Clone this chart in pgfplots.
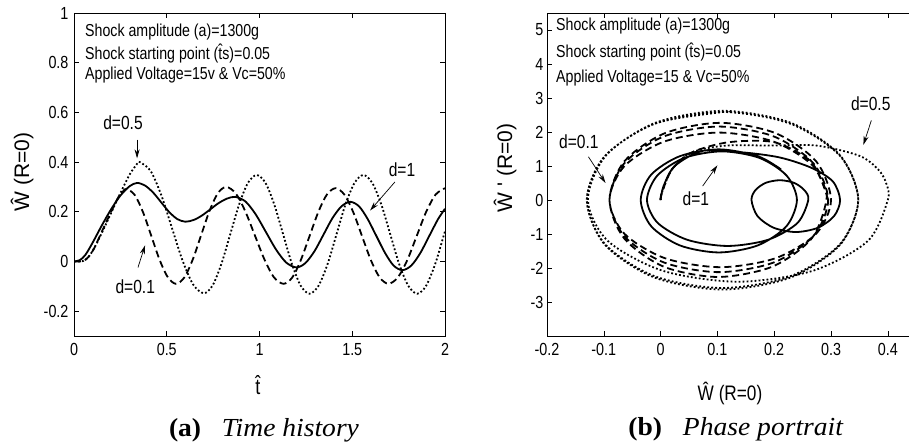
\documentclass[border=0pt]{standalone}
\usepackage{pgfplots}
\pgfplotsset{compat=1.18}
\usepackage{pgfplotstable}
\usetikzlibrary{arrows.meta}
\usepackage{fontspec}
\setmainfont{Liberation Serif}
\newfontfamily\pf{Liberation Sans}[FakeStretch=0.82]
\newfontfamily\pfn{Liberation Sans}
\newfontfamily\capf{Liberation Serif}[FakeStretch=1.06]

% columns: t, W, dW/dt
\pgfplotstableread{
t w dw
0 0 0
0.05 0.002 0.2
0.08 0.02 0.9
0.11 0.055 1.4
0.15 0.115 1.6
0.2 0.195 1.6
0.25 0.275 1.6
0.3 0.35 1.3
0.33 0.383 0.9
0.345 0.397 0.5
0.355 0.40 0
0.4125 0.365 -1.202
0.47 0.268 -2.082
0.5275 0.136 -2.404
0.585 0.004 -2.082
0.6425 -0.093 -1.202
0.70 -0.128 0
0.7475 -0.096 1.312
0.795 -0.009 2.272
0.8425 0.11 2.623
0.89 0.229 2.272
0.9375 0.316 1.312
0.985 0.348 0
1.0325 0.316 -1.317
1.08 0.2285 -2.282
1.1275 0.109 -2.635
1.175 -0.0105 -2.282
1.2225 -0.098 -1.317
1.27 -0.13 0
1.318 -0.098 1.295
1.367 -0.0105 2.242
1.415 0.109 2.589
1.463 0.2285 2.242
1.512 0.316 1.295
1.56 0.348 0
1.608 0.316 -1.295
1.657 0.2285 -2.242
1.705 0.109 -2.589
1.753 -0.0105 -2.242
1.802 -0.098 -1.295
1.85 -0.13 0
1.898 -0.098 1.295
1.947 -0.0105 2.242
1.995 0.109 2.589
2.0 0.121 2.585
}\tabD

\pgfplotstableread{
t w dw
0 0 0
0.05 0.002 0.2
0.08 0.02 0.9
0.11 0.055 1.4
0.15 0.12 1.7
0.2 0.2 1.7
0.24 0.26 1.2
0.265 0.283 0.6
0.285 0.292 0
0.329 0.266 -1.132
0.373 0.1965 -1.961
0.4175 0.101 -2.264
0.462 0.0055 -1.961
0.506 -0.064 -1.132
0.55 -0.09 0
0.595 -0.064 1.134
0.64 0.0075 1.965
0.685 0.105 2.269
0.73 0.2025 1.965
0.775 0.274 1.134
0.82 0.30 0
0.872 0.274 -0.988
0.923 0.2025 -1.711
0.975 0.105 -1.976
1.027 0.0075 -1.711
1.078 -0.064 -0.988
1.13 -0.09 0
1.177 -0.064 1.08
1.223 0.006 1.871
1.27 0.1025 2.16
1.317 0.199 1.871
1.363 0.269 1.08
1.41 0.295 0
1.4575 0.269 -1.061
1.505 0.199 -1.838
1.5525 0.1025 -2.122
1.60 0.006 -1.838
1.6475 -0.064 -1.061
1.695 -0.09 0
1.746 -0.064 0.991
1.797 0.006 1.717
1.8475 0.1025 1.983
1.898 0.199 1.717
1.949 0.269 0.991
2.0 0.295 0
}\tabA

\pgfplotstableread{
t w dw
0 0 0
0.03 0.005 0.4
0.06 0.025 1.0
0.1 0.075 1.45
0.15 0.145 1.4
0.2 0.21 1.25
0.25 0.265 0.95
0.3 0.303 0.55
0.34 0.316 0
0.383 0.3055 -0.471
0.427 0.277 -0.816
0.47 0.238 -0.942
0.513 0.199 -0.816
0.557 0.1705 -0.471
0.60 0.16 0
0.645 0.167 0.291
0.69 0.185 0.504
0.735 0.21 0.582
0.78 0.235 0.504
0.825 0.253 0.291
0.87 0.26 0
0.925 0.241 -0.676
0.98 0.189 -1.171
1.035 0.118 -1.352
1.09 0.047 -1.171
1.145 -0.005 -0.676
1.20 -0.024 0
1.248 -0.006 0.715
1.297 0.042 1.238
1.345 0.108 1.43
1.393 0.174 1.238
1.442 0.222 0.715
1.49 0.24 0
1.537 0.2216 -0.771
1.583 0.171 -1.336
1.63 0.1025 -1.543
1.677 0.034 -1.336
1.723 -0.0166 -0.771
1.77 -0.035 0
1.818 -0.0166 0.745
1.867 0.034 1.29
1.915 0.1025 1.49
1.963 0.171 1.29
2.0 0.212 0.90
}\tabS

\pgfplotsset{
  common/.style={
    scale only axis,
    axis line style={line width=0.8pt},
    tick style={black, line width=0.6pt},
    major tick length=5pt,
    tick align=inside,
    ticklabel style={font=\pf\fontsize{17.5}{17.5}\selectfont},
    xticklabel style={yshift=-4pt},
    every axis plot/.append style={line width=1.8pt, black, smooth, no marks},
  },
}
\tikzset{
  sol/.style={solid},
  dsh/.style={dash pattern=on 7pt off 4pt},
  dot/.style={dash pattern=on 1.8pt off 2.2pt, line width=1.8pt},
  ann/.style={font=\pf\fontsize{19}{19}\selectfont},
  arr/.style={-{Stealth[length=9pt,width=5pt]}, line width=0.7pt},
}

\begin{document}
\begin{tikzpicture}
\path[use as bounding box] (0pt,0pt) rectangle (909pt,445pt);

% ---------- (a) time history ----------
\begin{axis}[common, at={(74pt,109pt)}, anchor=south west,
  width=371pt, height=323pt,
  xmin=0, xmax=2, ymin=-0.3, ymax=1,
  yticklabel style={xshift=-2pt},
  xtick={0,0.5,1,1.5,2}, xticklabels={0,0.5,1,1.5,2},
  ytick={-0.2,0,0.2,0.4,0.6,0.8,1}, yticklabels={-0.2,0,0.2,0.4,0.6,0.8,1}]
\addplot[sol] table[x=t,y=w] {\tabS};
\addplot[dsh] table[x=t,y=w] {\tabA};
\addplot[dot] table[x=t,y=w] {\tabD};
\node[ann] at (axis cs:0.264,0.56) {d=0.5};
\draw[arr] (axis cs:0.34,0.49) -- (axis cs:0.34,0.415);
\node[ann] at (axis cs:1.768,0.368) {d=1};
\draw[arr] (axis cs:1.73,0.32) -- (axis cs:1.596,0.205);
\node[ann] at (axis cs:0.33,-0.1) {d=0.1};
\draw[arr] (axis cs:0.345,-0.024) -- (axis cs:0.383,0.065);
\end{axis}

% ---------- (b) phase portrait ----------
\begin{axis}[common, at={(547pt,109pt)}, anchor=south west,
  width=369.2pt, height=323pt,
  xmin=-0.2, xmax=0.45, ymin=-4, ymax=5.5,
  xtick={-0.2,-0.1,0,0.1,0.2,0.3,0.4}, xticklabels={-0.2,-0.1,0,0.1,0.2,0.3,0.4},
  ytick={-3,-2,-1,0,1,2,3,4,5}, yticklabels={-3,-2,-1,0,1,2,3,4,5}]
\addplot[sol] table[x=w,y=dw] {\tabS};
\addplot[dsh] table[x=w,y=dw] {\tabA};
\addplot[dot] table[x=w,y=dw] {\tabD};
\node[ann] at (axis cs:-0.144,1.72) {d=0.1};
\draw[arr] (axis cs:-0.127,1.27) -- (axis cs:-0.097,0.5);
\node[ann] at (axis cs:0.37,2.84) {d=0.5};
\draw[arr] (axis cs:0.371,2.34) -- (axis cs:0.357,1.62);
\node[ann] at (axis cs:0.062,0.03) {d=1};
\draw[arr] (axis cs:0.074,0.41) -- (axis cs:0.10,1.02);
\end{axis}

% ---------- info text ----------
\begin{scope}[every node/.style={anchor=west, inner sep=0pt, font=\pf\fontsize{17.3}{17.3}\selectfont}]
\node at (85pt,413pt) {Shock amplitude (a)=1300g};
\node at (85pt,391.5pt) {Shock starting point (\^{t}s)=0.05};
\node at (85pt,370pt) {Applied Voltage=15v \& Vc=50\%};
\node at (556pt,419pt) {Shock amplitude (a)=1300g};
\node at (556pt,393pt) {Shock starting point (\^{t}s)=0.05};
\node at (556pt,367pt) {Applied Voltage=15 \& Vc=50\%};
\end{scope}

% ---------- axis labels ----------
\begin{scope}[every node/.style={inner sep=0pt}]
\node[rotate=90, font=\pfn\fontsize{21}{21}\selectfont] at (22pt,273pt) {Ŵ (R=0)};
\node[rotate=90, font=\pfn\fontsize{21}{21}\selectfont] at (505pt,277pt) {Ŵ ' (R=0)};
\node[font=\pf\fontsize{22}{22}\selectfont] at (258pt,60pt) {\^{t}};
\node[font=\pf\fontsize{21}{21}\selectfont] at (730pt,52pt) {Ŵ (R=0)};
\end{scope}

% ---------- captions ----------
\node[anchor=base, font=\capf\fontsize{26}{26}\selectfont, inner sep=0pt] at (264pt,9pt) {\textbf{(a)}\hspace{0.8em}\textit{Time history}};
\node[anchor=base, font=\capf\fontsize{26}{26}\selectfont, inner sep=0pt] at (736pt,10pt) {\textbf{(b)}\hspace{0.8em}\textit{Phase portrait}};
\end{tikzpicture}
\end{document}
